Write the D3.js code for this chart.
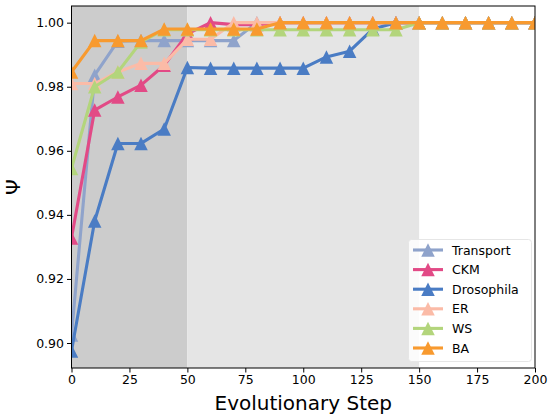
<!DOCTYPE html>
<html>
<head>
<meta charset="utf-8">
<script src="https://cdn.jsdelivr.net/npm/d3@7"></script>
<style>
  html, body { margin: 0; padding: 0; background: #fff; }
  svg { display: block; font-family: "DejaVu Sans", sans-serif; }
</style>
</head>
<body>
<svg id="chart" width="549" height="419"></svg>
<script>
// Evolutionary steps sampled every 10 steps
const steps = d3.range(0, 201, 10);

// Psi per network, one value per step
const transport  = [0.9025, 0.9836, 0.9942, 0.9944, 0.9944, 0.9944, 0.9944, 0.9944, 1.0, 1.0, 1.0, 1.0, 1.0, 1.0, 1.0, 1.0, 1.0, 1.0, 1.0, 1.0, 1.0];
const ckm        = [0.9328, 0.9727, 0.9768, 0.9805, 0.9867, 0.9965, 1.0, 0.9994, 0.9994, 1.0, 1.0, 1.0, 1.0, 1.0, 1.0, 1.0, 1.0, 1.0, 1.0, 1.0, 1.0];
const drosophila = [0.8975, 0.9381, 0.9623, 0.9623, 0.9668, 0.9860, 0.9858, 0.9858, 0.9858, 0.9858, 0.9858, 0.9893, 0.9911, 0.9980, 1.0, 1.0, 1.0, 1.0, 1.0, 1.0, 1.0];
const er         = [0.9810, 0.9810, 0.9846, 0.9873, 0.9873, 0.9948, 0.9948, 1.0, 1.0, 1.0, 1.0, 1.0, 1.0, 1.0, 1.0, 1.0, 1.0, 1.0, 1.0, 1.0, 1.0];
const ws         = [0.9545, 0.9800, 0.9846, 0.9940, 0.9978, 0.9978, 0.9978, 0.9978, 0.9978, 0.9978, 0.9978, 0.9978, 0.9978, 0.9978, 0.9978, 1.0, 1.0, 1.0, 1.0, 1.0, 1.0];
const ba         = [0.9846, 0.9944, 0.9944, 0.9944, 0.9980, 0.9980, 0.9980, 0.9980, 0.9980, 1.0, 1.0, 1.0, 1.0, 1.0, 1.0, 1.0, 1.0, 1.0, 1.0, 1.0, 1.0];

const seriesNames  = ["Transport", "CKM", "Drosophila", "ER", "WS", "BA"];
const seriesValues = [transport, ckm, drosophila, er, ws, ba];
const seriesColors = ["#8fa3cb", "#e24a86", "#4a7cc4", "#fbbba7", "#b3d57c", "#f89a2f"];

// Shaded phases along the step axis
const phaseStarts = [0, 50];
const phaseEnds   = [50, 150];
const phaseFills  = ["#cccccc", "#e5e5e5"];

const xTicks = [0, 25, 50, 75, 100, 125, 150, 175, 200];
const yTicks = [0.90, 0.92, 0.94, 0.96, 0.98, 1.00];

const margin = { left: 71.5, right: 14, top: 6, bottom: 51 };
const W = 549, H = 419;
const svg = d3.select("#chart");

const x = d3.scaleLinear().domain([0, 200]).range([margin.left, W - margin.right]);
const y = d3.scaleLinear().domain([0.8922, 1.0052]).range([H - margin.bottom, margin.top]);

const plot = svg.append("g");

// phase backgrounds
plot.selectAll("rect.phase")
  .data(phaseStarts.map((s, i) => ({ s, e: phaseEnds[i], fill: phaseFills[i] })))
  .join("rect")
  .attr("class", "phase")
  .attr("x", d => x(d.s))
  .attr("width", d => x(d.e) - x(d.s))
  .attr("y", margin.top)
  .attr("height", H - margin.bottom - margin.top)
  .attr("fill", d => d.fill);

svg.append("clipPath").attr("id", "clip")
  .append("rect")
  .attr("x", margin.left).attr("y", margin.top)
  .attr("width", W - margin.left - margin.right)
  .attr("height", H - margin.top - margin.bottom);

const marks = plot.append("g").attr("clip-path", "url(#clip)");
const line = d3.line().x((d, i) => x(steps[i])).y(d => y(d));

// upward triangle centred on its bounding box
const triSide = 13.5;
const triPath = (() => {
  const p = d3.path();
  const h = triSide / 2;
  p.moveTo(0, -h); p.lineTo(-h, h); p.lineTo(h, h); p.closePath();
  return p.toString();
})();

seriesValues.forEach((vals, k) => {
  const g = marks.append("g");
  g.append("path")
    .datum(vals)
    .attr("d", line)
    .attr("fill", "none")
    .attr("stroke", seriesColors[k])
    .attr("stroke-width", 3.1)
    .attr("stroke-linejoin", "round");
  g.selectAll("path.m")
    .data(vals)
    .join("path")
    .attr("class", "m")
    .attr("transform", (d, i) => `translate(${x(steps[i])},${y(d)})`)
    .attr("d", triPath)
    .attr("fill", seriesColors[k]);
});

// axes
const xAxis = svg.append("g")
  .attr("transform", `translate(0,${H - margin.bottom})`)
  .call(d3.axisBottom(x).tickValues(xTicks).tickSize(4.5).tickPadding(3).tickFormat(d3.format("d")));
const yAxis = svg.append("g")
  .attr("transform", `translate(${margin.left},0)`)
  .call(d3.axisLeft(y).tickValues(yTicks).tickSize(4.5).tickPadding(3).tickFormat(d3.format(".2f")));

[xAxis, yAxis].forEach(a => {
  a.select(".domain").remove();
  a.selectAll("text").attr("font-size", 12.5).attr("fill", "#000").attr("font-family", "DejaVu Sans");
  a.selectAll("line").attr("stroke", "#000").attr("stroke-width", 1);
});

// frame
svg.append("rect")
  .attr("x", margin.left).attr("y", margin.top)
  .attr("width", W - margin.left - margin.right)
  .attr("height", H - margin.top - margin.bottom)
  .attr("fill", "none").attr("stroke", "#000").attr("stroke-width", 1);

// axis titles
svg.append("text")
  .attr("x", (margin.left + W - margin.right) / 2)
  .attr("y", 410)
  .attr("text-anchor", "middle")
  .attr("font-size", 20)
  .text("Evolutionary Step");
svg.append("text")
  .attr("transform", `translate(20,${(margin.top + H - margin.bottom) / 2}) rotate(-90)`)
  .attr("text-anchor", "middle")
  .attr("font-size", 20)
  .text("Ψ");

// legend
const lg = svg.append("g");
lg.append("rect")
  .attr("x", 408.5).attr("y", 239.5)
  .attr("width", 123).attr("height", 122)
  .attr("rx", 3)
  .attr("fill", "#fff").attr("fill-opacity", 0.85)
  .attr("stroke", "#e6e6e6");
seriesNames.forEach((name, k) => {
  const ry = 250 + k * 19.6;
  lg.append("line")
    .attr("x1", 413).attr("x2", 443).attr("y1", ry).attr("y2", ry)
    .attr("stroke", seriesColors[k]).attr("stroke-width", 3.1);
  lg.append("path")
    .attr("transform", `translate(428,${ry})`)
    .attr("d", triPath).attr("fill", seriesColors[k]);
  lg.append("text")
    .attr("x", 452).attr("y", ry + 4.5)
    .attr("font-size", 12.5)
    .text(name);
});
</script>
</body>
</html>
